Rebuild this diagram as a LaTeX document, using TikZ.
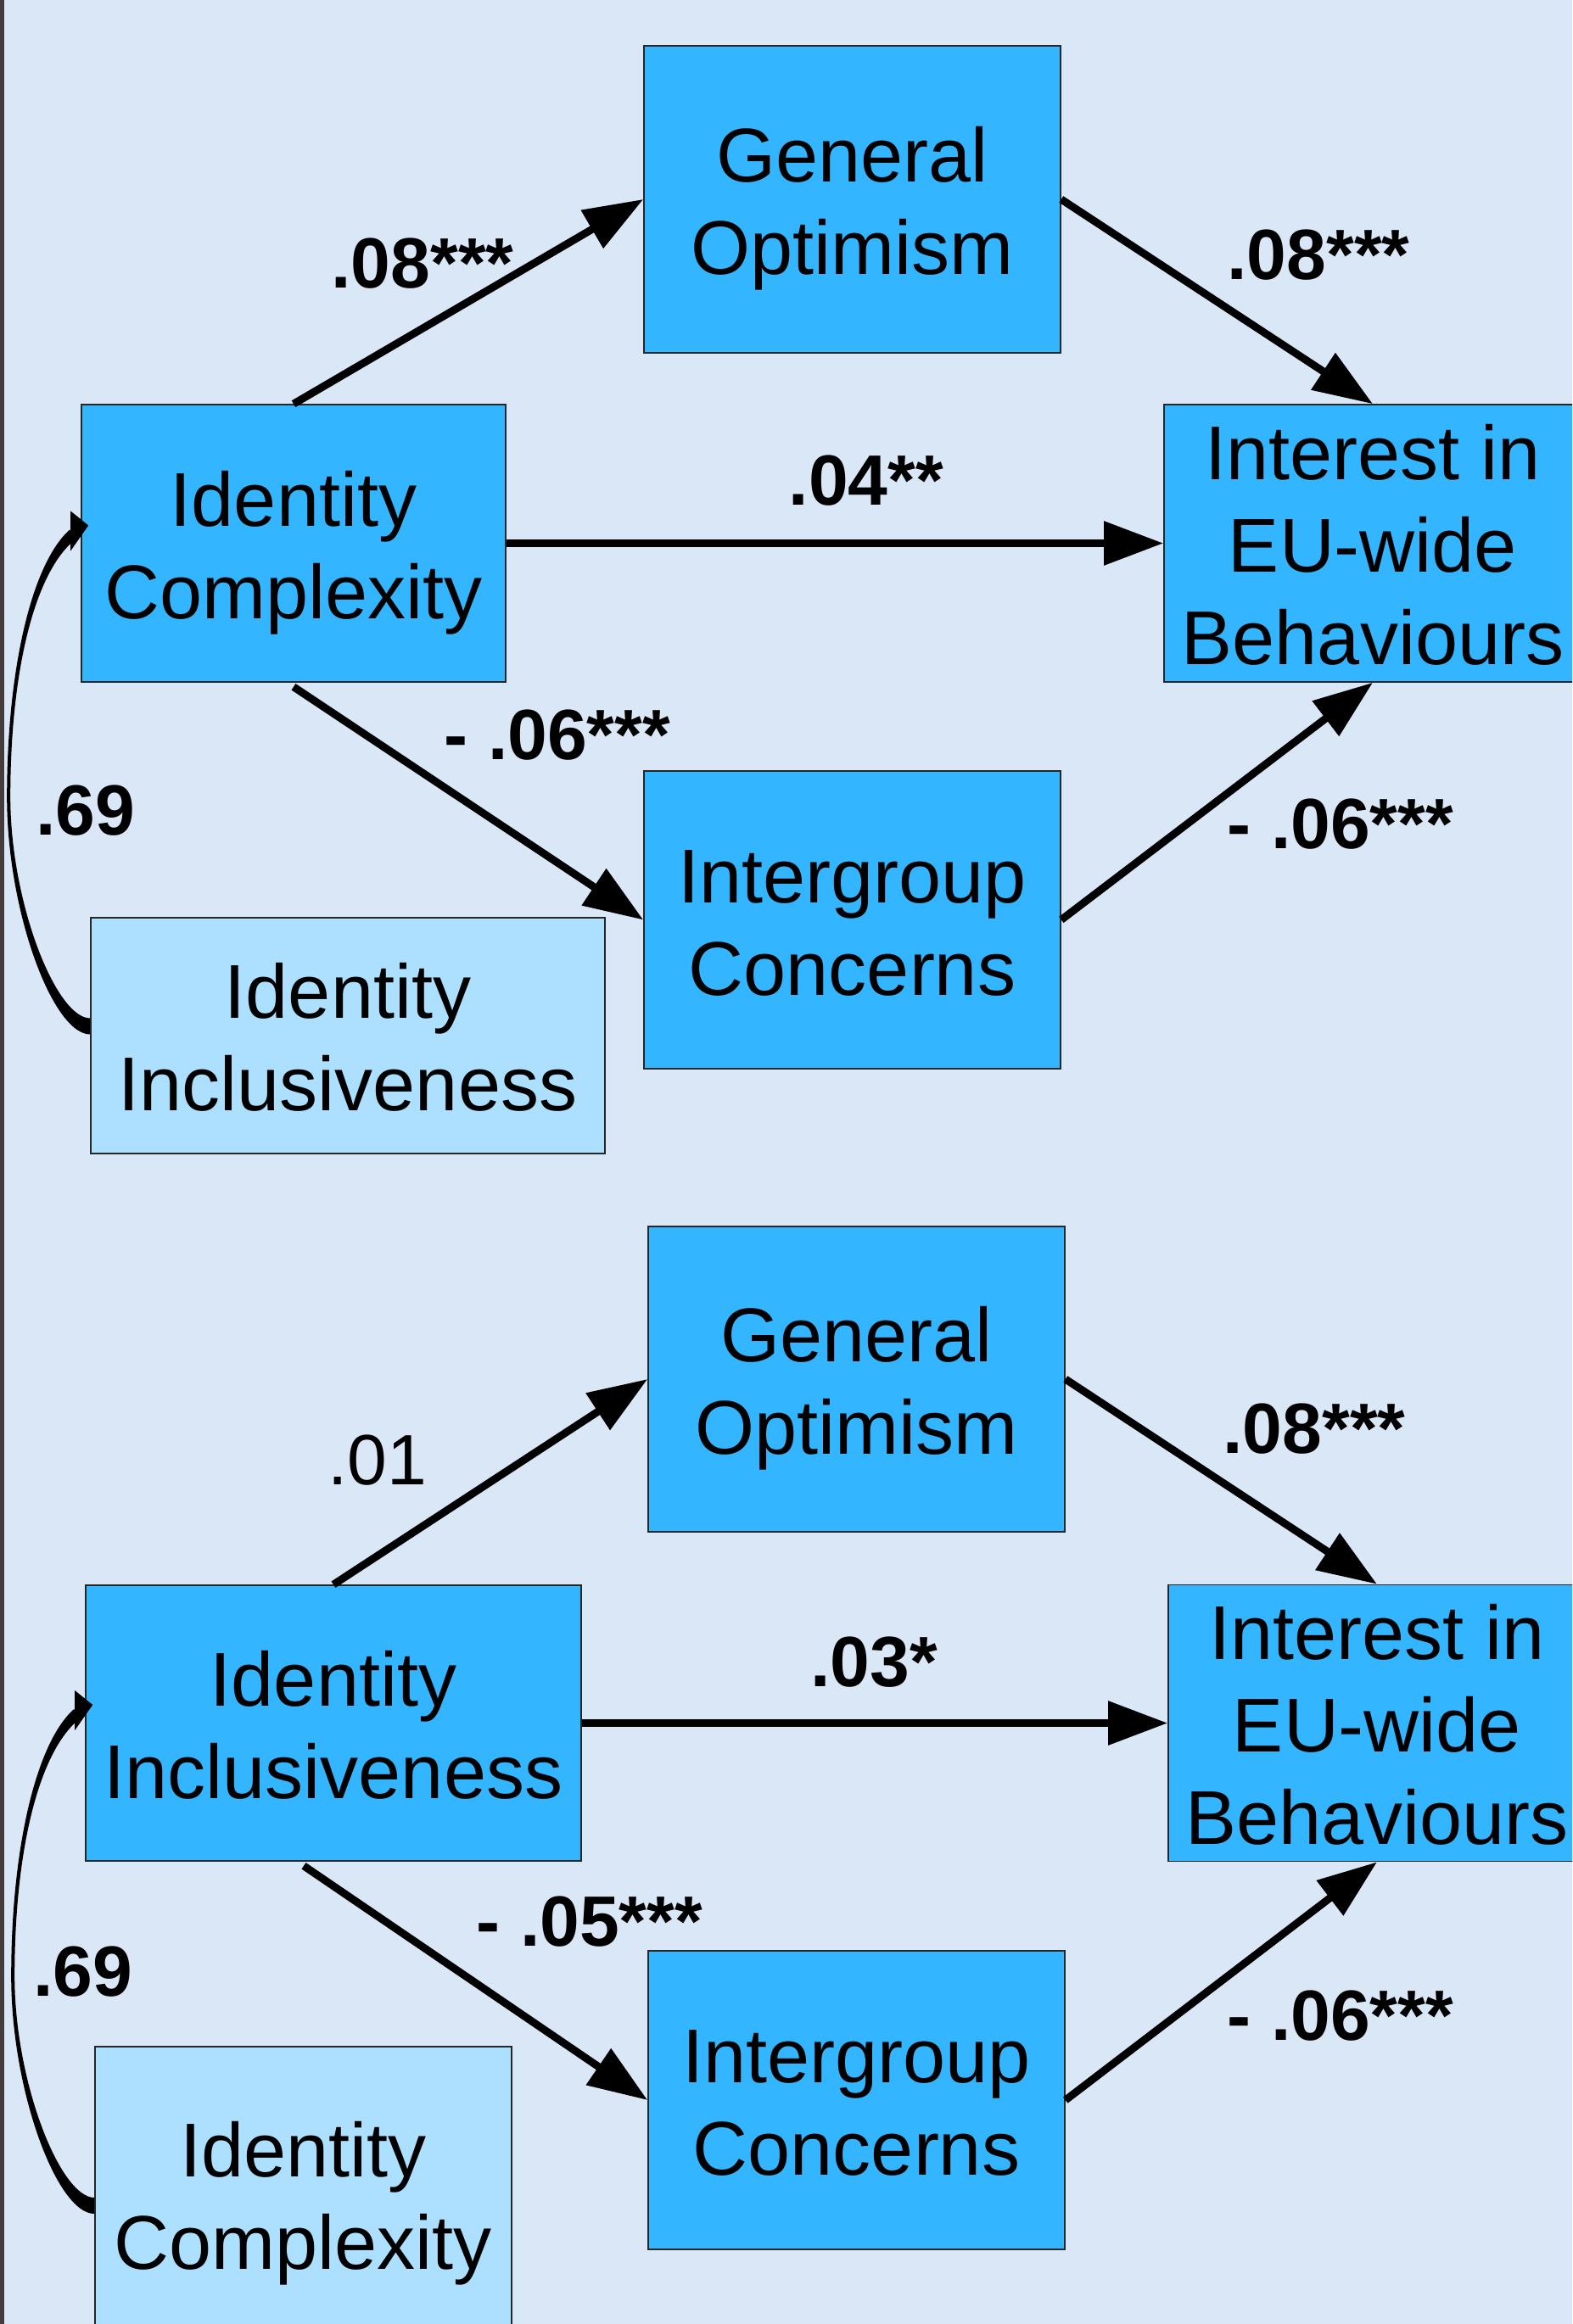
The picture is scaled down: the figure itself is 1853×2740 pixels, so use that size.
\documentclass[tikz,border=0pt]{standalone}
\usepackage{fontspec}
\setmainfont{Liberation Sans}
\usetikzlibrary{arrows.meta,calc}
\definecolor{bgcol}{RGB}{218,231,246}
\definecolor{darkbox}{RGB}{51,181,255}
\definecolor{lightbox}{RGB}{173,224,255}
\definecolor{stripcol}{RGB}{68,60,60}
\newcommand{\mytopstrut}{\rule{0pt}{44pt}}
\newcommand{\mybotstrut}{\rule[-10pt]{0pt}{10pt}}
\begin{document}
\begin{tikzpicture}[x=0.5pt,y=-0.5pt,
  box/.style={draw=black!85, line width=0.8pt, inner sep=0pt, align=center,
    font=\fontsize{45}{54.5}\selectfont},
  dbox/.style={box, fill=darkbox},
  lbox/.style={box, fill=lightbox},
  conn/.style={line width=4.5pt, -{Triangle[length=35pt,width=25pt]}},
  lab/.style={inner sep=0pt, font=\fontsize{42}{50}\selectfont\bfseries},
  labn/.style={inner sep=0pt, font=\fontsize{42}{50}\selectfont}
]
\useasboundingbox (0,0) rectangle (1853,2740);
\clip (0,0) rectangle (1853,2740);
\fill[bgcol] (0,0) rectangle (1853,2740);
\fill[stripcol] (0,0) rectangle (5,2740);

% ---------- top panel ----------
\node[dbox, minimum width=245.5pt, minimum height=181pt] (GO1) at (1004.5,235) {\mytopstrut General\\Optimism\mybotstrut};
\node[dbox, minimum width=250pt, minimum height=163.5pt] (IC1) at (346,640.5) {\mytopstrut Identity\\Complexity\mybotstrut};
\node[dbox, minimum width=246pt, minimum height=163.5pt] (INT1) at (1618,640.5) {\mytopstrut Interest in\\EU-wide\\Behaviours\mybotstrut};
\node[dbox, minimum width=245.5pt, minimum height=175.5pt] (IGC1) at (1004.5,1084.5) {\mytopstrut Intergroup\\Concerns\mybotstrut};
\node[lbox, minimum width=303pt, minimum height=139pt] (II1) at (410,1221) {\mytopstrut Identity\\Inclusiveness\mybotstrut};

\draw[conn] (IC1.north) -- (GO1.west);
\draw[conn] (GO1.east) -- (INT1.north);
\draw[conn] (IC1.east) -- (INT1.west);
\draw[conn] ($(IC1.south)+(0,5)$) -- (IGC1.west);
\draw[conn] (IGC1.east) -- (INT1.south);

\coordinate (T1) at ($(IC1.west)+(9,-21)$);
\begin{scope}[shift={(T1)}]
  \fill (-22,5) .. controls (-67,45) and (-96,170) .. (-96,320)
        .. controls (-96,455) and (-42,600) .. (2,600)
        -- (2,581) .. controls (-38,581) and (-92,445) .. (-92,320)
        .. controls (-92,170) and (-63,55) .. (-16,17) -- cycle;
  \fill (0,0) -- (-21,-17) -- (-21,30) -- cycle;
\end{scope}

\node[lab] (l1) at (498,311) {.08***};
\node[lab] (l2) at (1554,301) {.08***};
\node[lab] (l3) at (1021,567) {.04**};
\node[lab] (l4) at (657,867) {- .06***};
\node[lab] (l5) at (101,956) {.69};
\node[lab] (l6) at (1580,972) {- .06***};

% ---------- bottom panel ----------
\node[dbox, minimum width=245.5pt, minimum height=180pt] (GO2) at (1009.5,1626) {\mytopstrut General\\Optimism\mybotstrut};
\node[dbox, minimum width=292pt, minimum height=162.5pt] (II2) at (393,2031.5) {\mytopstrut Identity\\Inclusiveness\mybotstrut};
\node[dbox, minimum width=246pt, minimum height=162.5pt] (INT2) at (1623,2031.5) {\mytopstrut Interest in\\EU-wide\\Behaviours\mybotstrut};
\node[dbox, minimum width=245.5pt, minimum height=176pt] (IGC2) at (1009.5,2476) {\mytopstrut Intergroup\\Concerns\mybotstrut};
\node[lbox, minimum width=245.5pt, minimum height=174pt] (IC2) at (357.5,2587) {\mytopstrut Identity\\Complexity\mybotstrut};

\draw[conn] (II2.north) -- (GO2.west);
\draw[conn] (GO2.east) -- (INT2.north);
\draw[conn] (II2.east) -- (INT2.west);
\draw[conn] ($(II2.south)+(-35,5)$) -- (IGC2.west);
\draw[conn] (IGC2.east) -- (INT2.south);

\coordinate (T2) at ($(II2.west)+(9,-21.5)$);
\begin{scope}[shift={(T2)}]
  \fill (-22,5) .. controls (-67,45) and (-96,170) .. (-96,320)
        .. controls (-96,455) and (-42,600) .. (2,600)
        -- (2,581) .. controls (-38,581) and (-92,445) .. (-92,320)
        .. controls (-92,170) and (-63,55) .. (-16,17) -- cycle;
  \fill (0,0) -- (-21,-17) -- (-21,30) -- cycle;
\end{scope}

\node[labn] (l7) at (445,1722) {.01};
\node[lab] (l8) at (1549,1685) {.08***};
\node[lab] (l9) at (1030,1960) {.03*};
\node[lab] (l10) at (695,2266) {- .05***};
\node[lab] (l11) at (98,2325) {.69};
\node[lab] (l12) at (1580,2377) {- .06***};
\end{tikzpicture}
\end{document}
